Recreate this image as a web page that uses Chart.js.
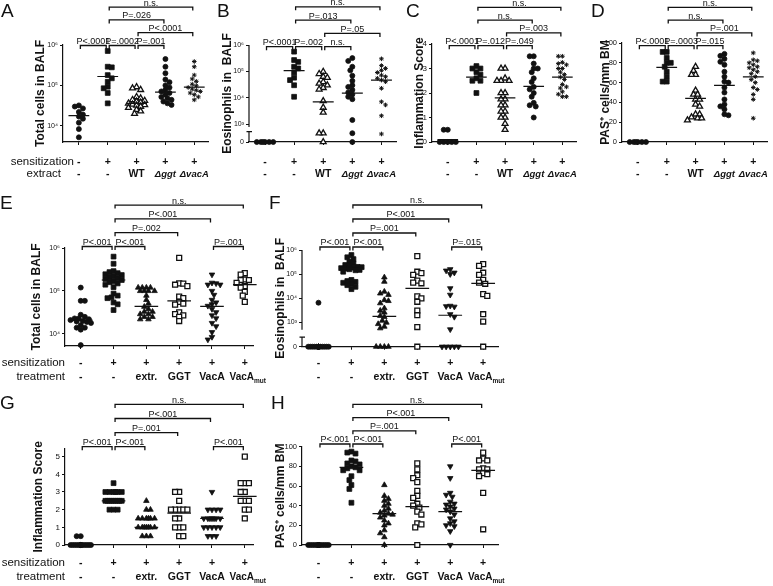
<!DOCTYPE html>
<html>
<head>
<meta charset="utf-8">
<script src="https://cdn.jsdelivr.net/npm/chart.js@4"></script>
<style>
  body { margin: 0; background: #fff; width: 773px; height: 586px; position: relative; overflow: hidden; }
  canvas { position: absolute; }
</style>
</head>
<body>
<script>
const FONT = '"Liberation Sans", Arial, Helvetica, sans-serif';

// x categories
const topSens = ['-', '+', '+', '+', '+'];
const topExtract = ['-', '-', 'WT', 'Δggt', 'ΔvacA'];
const botSens = ['-', '+', '+', '+', '+', '+'];
const botTreat = ['-', '-', 'extr.', 'GGT', 'VacA', 'VacA_mut'];

// y tick labels
const decadeLabels = ['10⁴', '10⁵', '10⁶'];
const brokenLabels = ['0', '10³', '10⁴', '10⁵', '10⁶'];
const scoreTicks4 = [0, 1, 2, 3, 4];
const scoreTicks5 = [0, 1, 2, 3, 4, 5];
const pasTicks = [0, 20, 40, 60, 80, 100];

// A: total cells in BALF
const aNeg = [32000, 30000, 27000, 22000, 19000, 17000, 15000, 12000, 8300, 5200];
const aSens = [710000, 290000, 280000, 180000, 150000, 123000, 93000, 85000, 65000, 36000];
const aWT = [91000, 85000, 78000, 52000, 48000, 44000, 42000, 40000, 38000, 36000, 34000, 33000, 32000, 30000, 28000, 25000, 23000, 20000];
const aGgt = [450000, 290000, 200000, 140000, 120000, 100000, 89000, 78000, 71000, 65000, 59000, 52000, 48000, 44000, 40000, 36000, 33000];
const aVacA = [390000, 290000, 180000, 145000, 126000, 107000, 98000, 89000, 81000, 76000, 71000, 65000, 59000, 52000, 44000];
const aMed = [17800, 166000, 36000, 68000, 91000];

// B: eosinophils in BALF
const bNeg = [0, 0, 0, 0, 0, 0];
const bSens = [560000, 270000, 230000, 150000, 130000, 91000, 58000, 47000, 30000, 11000];
const bWT = [98000, 81000, 63000, 58000, 40000, 35000, 30000, 24000, 21000, 7600, 4300, 2800, 460, 460, 0];
const bGgt = [320000, 250000, 150000, 110000, 69000, 44000, 30000, 26000, 20000, 16000, 13500, 11000, 8900, 1450, 460, 0];
const bVacA = [300000, 166000, 130000, 110000, 91000, 72000, 63000, 55000, 47000, 41000, 23000, 7100, 5400, 2100, 430];
const bMed = [0, 107000, 7100, 15000, 47000];

// C: inflammation score
const cNeg = [0.5, 0.5, 0, 0, 0, 0, 0];
const cSens = [3.1, 3.0, 3.0, 2.85, 2.75, 2.6, 2.5, 2.5, 2.0];
const cWT = [3.0, 3.0, 2.6, 2.5, 2.5, 2.5, 2.0, 2.0, 1.75, 1.75, 1.5, 1.5, 1.25, 1.25, 1.0, 1.0, 0.75, 0.5];
const cGgt = [3.5, 3.5, 3.2, 3.0, 3.0, 2.85, 2.6, 2.45, 2.25, 2.15, 2.0, 1.85, 1.6, 1.5, 1.45, 1.0];
const cVacA = [3.5, 3.5, 3.25, 3.2, 3.15, 3.0, 3.0, 2.85, 2.75, 2.65, 2.55, 2.35, 2.25, 2.2, 2.05, 1.95, 1.85, 1.85];
const cMed = [0.1, 2.65, 1.8, 2.27, 2.65];

// D: PAS+ cells/mm BM
const dNeg = [0, 0, 0, 0, 0, 0];
const dSens = [91, 91, 85, 80, 80, 76, 71, 66, 61, 61];
const dWT = [76, 72, 68, 68, 52, 48, 48, 43, 43, 38, 36, 28, 28, 25, 24, 24, 22];
const dGgt = [89, 87, 84, 81, 78, 71, 66, 61, 60, 55, 50, 43, 38, 36, 33, 28, 27];
const dVacA = [90, 83, 82, 80, 78, 76, 75, 73, 71, 69, 66, 63, 60, 55, 53, 48, 43, 24];
const dMed = [0, 75.4, 44, 57.2, 65.7];

// E: total cells in BALF
const eNeg = [120000, 59000, 59000, 28000, 25000, 23000, 23000, 22000, 21000, 20000, 19500, 19000, 18000, 16000, 14000, 14000, 12600, 5500];
const eSens = [630000, 430000, 290000, 275000, 260000, 245000, 235000, 220000, 210000, 200000, 190000, 180000, 170000, 160000, 150000, 140000, 123000, 87000, 78000, 71000, 68000, 54000, 49000, 36000];
const eExtr = [120000, 120000, 120000, 120000, 100000, 100000, 100000, 100000, 78000, 62000, 51000, 43000, 38000, 33000, 33000, 29000, 29000, 25000, 25000, 22000, 22000];
const eGGT = [590000, 150000, 148000, 140000, 130000, 74000, 68000, 56000, 51000, 48000, 32000, 29000, 27000, 25000, 20000];
const eVacA = [240000, 155000, 150000, 140000, 140000, 100000, 81000, 62000, 54000, 49000, 45000, 38000, 32000, 27000, 23000, 18000, 15000, 11000, 8500, 7400];
const eMut = [260000, 240000, 185000, 180000, 180000, 155000, 130000, 120000, 95000, 78000, 56000];
const eMed = [21000, 180000, 44000, 59000, 44000, 140000];

// F: eosinophils in BALF
const fNeg = [6600, 0, 0, 0, 0, 0, 0, 0, 0, 0, 0, 0, 0, 0, 0, 0, 0, 0];
const fSens = [620000, 500000, 420000, 330000, 280000, 240000, 220000, 200000, 195000, 186000, 178000, 170000, 160000, 150000, 145000, 126000, 58000, 52000, 48000, 44000, 39000, 35000, 30000, 24000];
const fExtr = [74000, 49000, 19000, 16000, 14000, 8500, 7800, 6300, 3900, 3100, 2600, 1900, 1700, 1200, 1000, 870, 680, 580, 0, 0, 0, 0];
const fGGT = [560000, 126000, 110000, 93000, 54000, 45000, 42000, 12000, 10000, 7200, 3100, 2000, 650, 0];
const fVacA = [160000, 140000, 115000, 100000, 26000, 14000, 4900, 4700, 4500, 2200, 1700, 520, 0, 0, 0, 0, 0];
const fMut = [260000, 220000, 115000, 93000, 58000, 45000, 40000, 15000, 12600, 2200, 1100, 0];
const fMed = [0, 174000, 1800, 26000, 2000, 42000];

// G: inflammation score
const gNeg = [0.5, 0.5, 0, 0, 0, 0, 0, 0, 0, 0, 0, 0, 0, 0, 0, 0, 0];
const gSens = [3.5, 3, 3, 3, 3, 3, 3, 2.5, 2.5, 2.5, 2.5, 2.5, 2.5, 2.5, 2.5, 2.5, 2, 2, 2];
const gExtr = [2.5, 2, 2, 1.5, 1.5, 1.5, 1.5, 1.5, 1.5, 1, 1, 1, 1, 1, 1, 1, 0.5, 0.5, 0.5];
const gGGT = [3, 3, 2.5, 2, 2, 2, 2, 2, 1.5, 1.5, 1, 1, 1, 0.5, 0.5];
const gVacA = [3, 2, 2, 2, 2, 1.5, 1.5, 1.5, 1.5, 1.5, 1.5, 1.5, 1, 1, 1, 1, 1, 0.5, 0.5, 0.5];
const gMut = [5, 3.5, 3.5, 3.5, 3, 3, 2.5, 2.5, 2.5, 2, 2, 1.5];
const gMed = [0, 2.5, 1.0, 1.8, 1.5, 2.75];

// H: PAS+ cells/mm BM
const hNeg = [0, 0, 0, 0, 0, 0, 0, 0, 0, 0, 0, 0, 0, 0, 0, 0, 0];
const hSens = [95, 94, 93, 86, 85, 83, 82, 80, 79, 78, 76, 76, 70, 66, 61, 57, 43];
const hExtr = [61, 50, 47, 45, 42, 40, 37, 35, 33, 32, 31, 30, 28, 25, 22, 20, 15, 12, 8, 0];
const hGGT = [83, 77, 71, 68, 64, 55, 50, 48, 42, 40, 38, 34, 31, 22, 21, 18, 0];
const hVacA = [80, 68, 53, 51, 49, 44, 42, 41, 39, 37, 36, 34, 31, 27, 24, 22, 20, 19, 14, 0];
const hMut = [94, 88, 86, 86, 78, 77, 77, 73, 72, 70, 53, 16];
const hMed = [0, 79, 32, 39, 34, 76];

// marker styles
const M = {
  dot: { style: 'circle', r: 2.5 },
  sq: { style: 'rect', r: 3.4 },
  triOpen: { style: 'triangle', r: 3.4, open: true },
  tri: { style: 'triangle', r: 3.2 },
  inv: { style: 'triangle', r: 3.2, rot: 180 },
  sqOpen: { style: 'rect', r: 3.5, open: true },
  star: { style: 'star', r: 2.3 },
};
const topMarkers = [M.dot, M.sq, M.triOpen, M.dot, M.star];
const botMarkers = [M.dot, M.sq, M.tri, M.sqOpen, M.inv, M.sqOpen];

const XH = 8; // x scale box height (tick marks only)

// simple beeswarm: spread points sideways (pixels) so they don't sit on top of each other
function swarm(py, d, maxHalf) {
  const idx = py.map((_, i) => i).sort((a, b) => py[a] - py[b]);
  const step = d / 2;
  const base = [0];
  for (let k = 1; k * step <= maxHalf; k++) base.push(k * step, -k * step);
  const placed = [], out = [];
  idx.forEach((i, n) => {
    const cands = n % 2 ? base.map(c => -c) : base;
    let best = 0, bestGap = -1;
    for (const c of cands) {
      let gap = Infinity;
      placed.forEach(q => { gap = Math.min(gap, Math.hypot(q[0] - c, q[1] - py[i])); });
      if (gap >= d) { best = c; break; }
      if (gap > bestGap + 0.01) { bestGap = gap; best = c; }
    }
    out[i] = best;
    placed.push([best, py[i]]);
  });
  return out;
}

function drawCat(ctx, lab, x, y) {
  ctx.textAlign = 'center';
  ctx.textBaseline = 'middle';
  if (lab.startsWith('Δ')) {
    ctx.font = `italic bold 9.5px ${FONT}`;
    ctx.fillText(lab, x, y);
  } else if (lab.includes('_')) {
    const [main, sub] = lab.split('_');
    ctx.font = `bold 10px ${FONT}`;
    const w1 = ctx.measureText(main).width;
    ctx.font = `bold 6.5px ${FONT}`;
    const w2 = ctx.measureText(sub).width;
    const left = x - (w1 + w2) / 2 + 3;
    ctx.textAlign = 'left';
    ctx.font = `bold 10px ${FONT}`;
    ctx.fillText(main, left, y);
    ctx.font = `bold 6.5px ${FONT}`;
    ctx.fillText(sub, left + w1, y + 4);
  } else {
    ctx.font = `bold 10.5px ${FONT}`;
    ctx.fillText(lab, x, y);
  }
}

function drawDecor(chart, p) {
  const ctx = chart.ctx;
  const xs = chart.scales.x, ys = chart.scales.y;
  const [L, T] = p.box;
  ctx.save();
  ctx.fillStyle = '#111';
  ctx.strokeStyle = '#111';

  ctx.font = `19px ${FONT}`;
  ctx.textAlign = 'left';
  ctx.textBaseline = 'alphabetic';
  ctx.fillText(p.letter, p.letterPos[0] - L, p.letterPos[1] - T);

  if (p.brk) {
    const x = chart.chartArea.left;
    const t = ys.getPixelForValue(p.brk[1]);
    ctx.lineWidth = 1.2;
    ctx.beginPath();
    ctx.moveTo(x, ys.getPixelForValue(p.yRange[1]));
    ctx.lineTo(x, ys.getPixelForValue(p.brk[0]));
    ctx.moveTo(x, ys.getPixelForValue(p.zeroPos));
    ctx.lineTo(x, t);
    ctx.moveTo(x - 2.5, t);
    ctx.lineTo(x + 3, t);
    ctx.stroke();
  }

  ctx.font = `9px ${FONT}`;
  ctx.textAlign = 'center';
  ctx.textBaseline = 'bottom';
  p.brackets.forEach(([a, b, lvl, label]) => {
    const y = p.brBase - lvl * p.brStep - T;
    const xa = xs.getPixelForValue(a) + 1.5, xb = xs.getPixelForValue(b) - 1.5;
    ctx.lineWidth = 1.3;
    ctx.beginPath();
    ctx.moveTo(xa, y + 3.5);
    ctx.lineTo(xa, y);
    ctx.lineTo(xb, y);
    ctx.lineTo(xb, y + 3.5);
    ctx.stroke();
    ctx.fillText(label, (xa + xb) / 2, y + 0.5);
  });

  p.rows.forEach((row, ri) => {
    const y = p.rowY[ri] - T;
    row.labels.forEach((lab, i) => drawCat(ctx, lab, xs.getPixelForValue(i + 1), y));
    if (row.head) {
      ctx.font = `11.5px ${FONT}`;
      ctx.textAlign = 'right';
      ctx.textBaseline = 'middle';
      ctx.fillText(row.head, row.headX - L, y);
    }
  });
  ctx.restore();
}

function buildPanel(p) {
  const [L, T, W, H] = p.box;
  const [x0, y0, x1, y1] = p.area;
  const canvas = document.createElement('canvas');
  canvas.width = W;
  canvas.height = H;
  canvas.style.left = L + 'px';
  canvas.style.top = T + 'px';
  document.body.appendChild(canvas);

  const toY = p.log ? (v => (v > 0 ? Math.log10(v) : p.zeroPos)) : (v => v);
  const pxX = (x1 - x0) / (p.xRange[1] - p.xRange[0]);
  const pxY = (y1 - y0) / (p.yRange[1] - p.yRange[0]);

  const datasets = p.groups.map((vals, gi) => {
    const yv = vals.map(toY);
    const offs = swarm(yv.map(v => -v * pxY), 4.1, p.spread);
    const m = p.markers[gi];
    return {
      type: 'scatter',
      data: yv.map((v, i) => ({ x: gi + 1 + offs[i] / pxX, y: v })),
      pointStyle: m.style,
      pointRadius: m.r,
      pointRotation: m.rot || 0,
      backgroundColor: m.open ? '#fff' : '#111',
      borderColor: '#111',
      borderWidth: m.open ? 1.3 : (m.style === 'star' ? 1 : 0.8),
      clip: false,
      order: 1,
    };
  });
  const med = [];
  p.medians.forEach((v, gi) => {
    med.push({ x: gi + 1 - 0.36, y: toY(v) }, { x: gi + 1 + 0.36, y: toY(v) }, { x: gi + 1.5, y: null });
  });
  datasets.push({
    type: 'line', data: med, borderColor: '#111', borderWidth: 1.2,
    pointRadius: 0, spanGaps: false, fill: false, clip: false, order: 0,
  });

  new Chart(canvas, {
    type: 'scatter',
    data: { datasets },
    options: {
      responsive: false,
      animation: false,
      events: [],
      layout: { padding: { left: x0 - L - p.yW, top: y0 - T, right: L + W - x1, bottom: T + H - y1 - XH } },
      plugins: { legend: { display: false }, tooltip: { enabled: false } },
      scales: {
        x: {
          type: 'linear', min: p.xRange[0], max: p.xRange[1],
          afterBuildTicks: s => { s.ticks = p.groups.map((_, i) => ({ value: i + 1 })); },
          afterFit: s => { s.height = XH; },
          ticks: { callback: () => '', autoSkip: false },
          grid: { drawOnChartArea: false, tickLength: 3, color: '#111', lineWidth: 1 },
          border: { color: '#111', width: 1.2 },
        },
        y: {
          type: 'linear', min: p.yRange[0], max: p.yRange[1],
          afterBuildTicks: s => { s.ticks = p.yTicks.map(v => ({ value: v })); },
          afterFit: s => { s.width = p.yW; },
          ticks: {
            autoSkip: false, padding: 2, color: '#111',
            font: { family: FONT, size: p.tickSize },
            callback: (v, i) => p.yLabels[i],
          },
          grid: { drawOnChartArea: false, tickLength: 3, color: '#111', lineWidth: 1 },
          border: { display: !p.brk, color: '#111', width: 1.2 },
          title: {
            display: true, text: p.title, color: '#111', padding: 0,
            font: { family: FONT, size: 12, weight: 'bold' },
          },
        },
      },
    },
    plugins: [{ id: 'decor', afterDraw: chart => drawDecor(chart, p) }],
  });
}

const topRows = [{ labels: topSens }, { labels: topExtract }];
const botRows = [{ labels: botSens }, { labels: botTreat }];
const topBrk = (l1, l2, l3, up1, up2, up3) => [[1, 2, 0, l1], [2, 3, 0, l2], [3, 4, 0, l3], [3, 5, 1, up1], [2, 4, 2, up2], [2, 5, 3, up3]];
const botBrk = (l1, l2, l3, up1, up2, up3) => [[1, 2, 0, l1], [2, 3, 0, l2], [5, 6, 0, l3], [2, 4, 1, up1], [2, 5, 2, up2], [2, 6, 3, up3]];

const panels = [
  {
    letter: 'A', letterPos: [1, 16.5], box: [0, 0, 214, 186], area: [63, 45, 210, 142],
    xRange: [0.45, 5.5], yRange: [3.6, 6], log: true, yTicks: [4, 5, 6], yLabels: decadeLabels,
    yW: 30, tickSize: 7, title: 'Total cells in BALF', spread: 9.5,
    groups: [aNeg, aSens, aWT, aGgt, aVacA], medians: aMed, markers: topMarkers,
    brackets: topBrk('P<.0001', 'P=.0002', 'P=.001', 'P<.0001', 'P=.026', 'n.s.'), brBase: 45.5, brStep: 12.8,
    rows: [{ labels: topSens, head: 'sensitization', headX: 74 }, { labels: topExtract, head: 'extract', headX: 61 }], rowY: [162, 174],
  },
  {
    letter: 'B', letterPos: [217, 16.5], box: [190, 0, 212, 186], area: [249, 45, 396, 142],
    xRange: [0.45, 5.5], yRange: [2.33, 6], log: true, zeroPos: 2.33, brk: [2.9, 2.72],
    yTicks: [2.33, 3, 4, 5, 6], yLabels: brokenLabels,
    yW: 29, tickSize: 7, title: 'Eosinophils in  BALF', spread: 9.5,
    groups: [bNeg, bSens, bWT, bGgt, bVacA], medians: bMed, markers: topMarkers,
    brackets: topBrk('P<.0001', 'P=.002', 'n.s.', 'P=.05', 'P=.013', 'n.s.'), brBase: 46.7, brStep: 13.3,
    rows: topRows, rowY: [162, 174],
  },
  {
    letter: 'C', letterPos: [406, 16.5], box: [380, 0, 202, 186], area: [432, 44, 579, 142],
    xRange: [0.45, 5.5], yRange: [0, 4], yTicks: scoreTicks4, yLabels: scoreTicks4.map(String),
    yW: 20, tickSize: 8, title: 'Inflammation Score', spread: 9.5,
    groups: [cNeg, cSens, cWT, cGgt, cVacA], medians: cMed, markers: topMarkers,
    brackets: topBrk('P<.0001', 'P=.012', 'P=.049', 'P=.003', 'n.s.', 'n.s.'), brBase: 45.7, brStep: 12.8,
    rows: topRows, rowY: [162, 174],
  },
  {
    letter: 'D', letterPos: [591, 16.5], box: [570, 0, 203, 186], area: [622, 43, 769, 142],
    xRange: [0.45, 5.5], yRange: [0, 100], yTicks: pasTicks, yLabels: pasTicks.map(String),
    yW: 24, tickSize: 7.5, title: 'PAS⁺ cells/mm BM', spread: 9.5,
    groups: [dNeg, dSens, dWT, dGgt, dVacA], medians: dMed, markers: topMarkers,
    brackets: topBrk('P<.0001', 'P=.0003', 'P=.015', 'P=.001', 'n.s.', 'n.s.'), brBase: 45.7, brStep: 12.8,
    rows: topRows, rowY: [162, 174],
  },
  {
    letter: 'E', letterPos: [0, 208.5], box: [0, 188, 275, 198], area: [65, 248, 253, 346],
    xRange: [0.52, 6.25], yRange: [3.72, 6], log: true, yTicks: [4, 5, 6], yLabels: decadeLabels,
    yW: 36, tickSize: 7, title: 'Total cells in BALF', spread: 11,
    groups: [eNeg, eSens, eExtr, eGGT, eVacA, eMut], medians: eMed, markers: botMarkers,
    brackets: botBrk('P<.001', 'P<.001', 'P=.001', 'P=.002', 'P<.001', 'n.s.'), brBase: 246.5, brStep: 13.8,
    rows: [{ labels: botSens, head: 'sensitization', headX: 65 }, { labels: botTreat, head: 'treatment', headX: 65 }], rowY: [363, 377],
  },
  {
    letter: 'F', letterPos: [269, 208.5], box: [262, 188, 250, 198], area: [302, 250, 498, 346.7],
    xRange: [0.5, 6.45], yRange: [2, 6], log: true, zeroPos: 2, brk: [2.7, 2.4],
    yTicks: [2, 3, 4, 5, 6], yLabels: brokenLabels,
    yW: 29, tickSize: 7, title: 'Eosinophils in  BALF', spread: 11,
    groups: [fNeg, fSens, fExtr, fGGT, fVacA, fMut], medians: fMed, markers: botMarkers,
    brackets: botBrk('P<.001', 'P<.001', 'P=.015', 'P=.001', 'P<.001', 'n.s.'), brBase: 247, brStep: 14,
    rows: botRows, rowY: [363, 377],
  },
  {
    letter: 'G', letterPos: [0, 408.5], box: [0, 388, 275, 198], area: [65, 448.7, 253, 545],
    xRange: [0.52, 6.25], yRange: [0, 5.45], yTicks: scoreTicks5, yLabels: scoreTicks5.map(String),
    yW: 34, tickSize: 8, title: 'Inflammation Score', spread: 11,
    groups: [gNeg, gSens, gExtr, gGGT, gVacA, gMut], medians: gMed, markers: botMarkers,
    brackets: botBrk('P<.001', 'P<.001', 'P<.001', 'P=.001', 'P<.001', 'n.s.'), brBase: 446.7, brStep: 14.1,
    rows: [{ labels: botSens, head: 'sensitization', headX: 65 }, { labels: botTreat, head: 'treatment', headX: 65 }], rowY: [563, 577],
  },
  {
    letter: 'H', letterPos: [271, 408.5], box: [262, 388, 250, 198], area: [302, 446.7, 498, 545],
    xRange: [0.5, 6.45], yRange: [0, 100], yTicks: pasTicks, yLabels: pasTicks.map(String),
    yW: 29, tickSize: 7.5, title: 'PAS⁺ cells/mm BM', spread: 11,
    groups: [hNeg, hSens, hExtr, hGGT, hVacA, hMut], medians: hMed, markers: botMarkers,
    brackets: botBrk('P<.001', 'P<.001', 'P<.001', 'P=.001', 'P<.001', 'n.s.'), brBase: 444, brStep: 13.2,
    rows: botRows, rowY: [563, 577],
  },
];

panels.forEach(buildPanel);
</script>
</body>
</html>
